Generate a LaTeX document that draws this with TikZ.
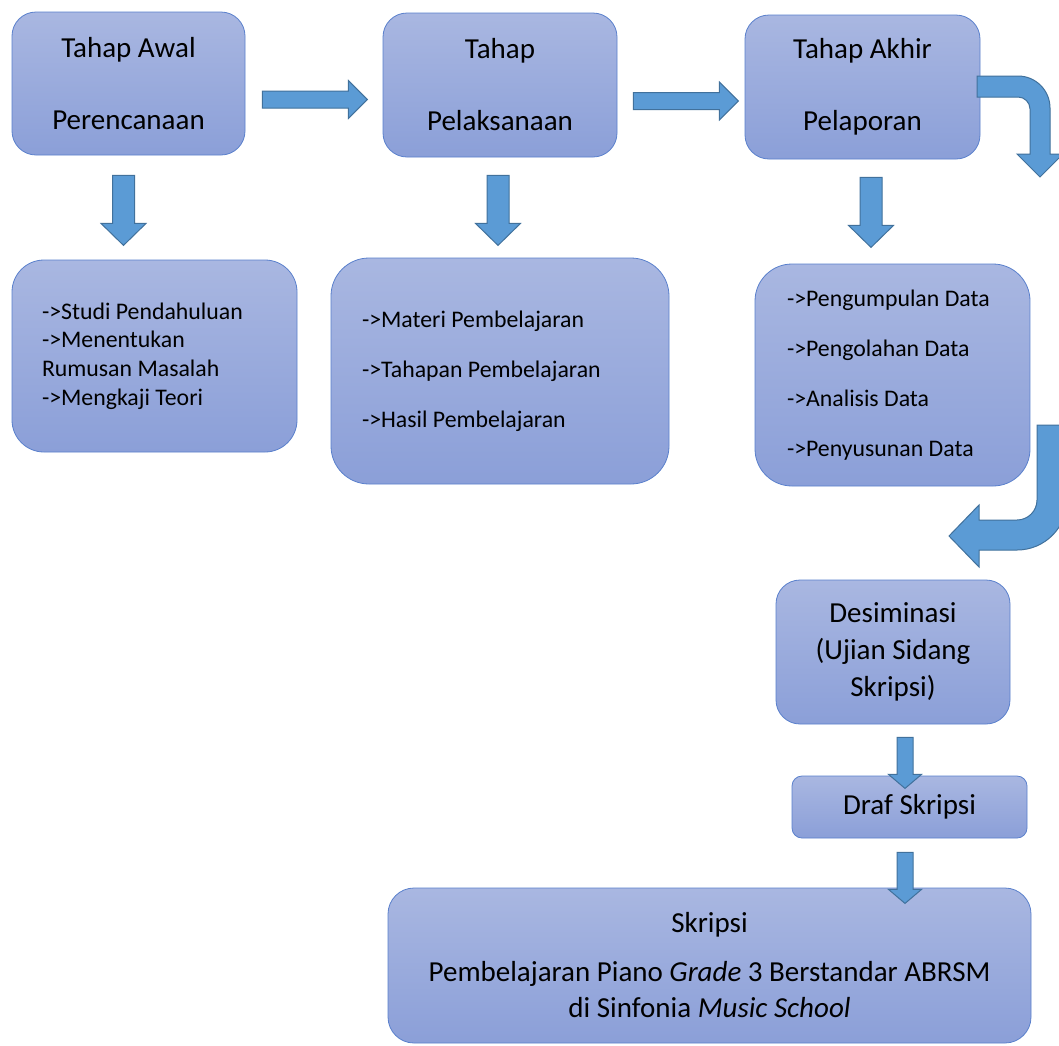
\documentclass[tikz,border=0pt]{standalone}
\usepackage{fontspec}
\setmainfont{Carlito}
\usetikzlibrary{calc}

\definecolor{boxtop}{HTML}{A9B7E1}
\definecolor{boxbottom}{HTML}{8B9FD8}
\definecolor{boxline}{HTML}{5A80CC}
\definecolor{arrowfill}{HTML}{5B9BD5}
\definecolor{arrowline}{HTML}{41719C}

\begin{document}
\begin{tikzpicture}[
    x=1pt, y=-1pt,
    stage/.style={rectangle, rounded corners=24pt, draw=boxline, line width=0.8pt, top color=boxtop, bottom color=boxbottom, align=center, inner sep=0pt, font=\fontsize{29}{36}\selectfont},
    tasklist/.style={stage, align=flush left, font=\fontsize{23.8}{50}\selectfont},
    blockarrow/.style={draw=arrowline, fill=arrowfill, line width=1pt},
    rightarrow/.pic={\draw[blockarrow] (0,-8.5) -- (86,-8.5) -- (86,-19) -- (105,0) -- (86,19) -- (86,8.5) -- (0,8.5) -- cycle;},
    downarrow/.pic={\draw[blockarrow] (-11,0) -- (11,0) -- (11,48) -- (22.5,48) -- (0,70) -- (-22.5,48) -- (-11,48) -- cycle;},
    shortarrow/.pic={\draw[blockarrow] (-8,0) -- (8,0) -- (8,37) -- (16.5,37) -- (0,51) -- (-16.5,37) -- (-8,37) -- cycle;}
]
\clip (0,0) rectangle (1059,1045);
\fill[white] (0,0) rectangle (1059,1045);

% Stages
\node[stage, minimum width=233pt, minimum height=143pt] (awal) at (128.5,83.5) {Tahap Awal\\[36pt]Perencanaan};
\node[stage, minimum width=234pt, minimum height=144pt] (laksana) at (500,85) {Tahap\\[36pt]Pelaksanaan};
\node[stage, minimum width=235pt, minimum height=144pt] (akhir) at (862.5,87) {Tahap Akhir\\[36pt]Pelaporan};

% Tasks
\node[tasklist, rounded corners=32pt, font=\fontsize{23.8}{28.7}\selectfont, text width=225pt, inner xsep=30pt, minimum height=192pt] (studi) at (154.5,356) {->Studi Pendahuluan\\->Menentukan\\Rumusan Masalah\\->Mengkaji Teori};
\node[tasklist, rounded corners=38pt, text width=276pt, inner xsep=31pt, minimum height=226pt] (materi) at (500,371) {->Materi Pembelajaran\\->Tahapan Pembelajaran\\->Hasil Pembelajaran\par\vspace*{16pt}};
\node[tasklist, rounded corners=37pt, text width=211pt, inner xsep=32pt, minimum height=222pt] (kumpul) at (892.5,375) {->Pengumpulan Data\\->Pengolahan Data\\->Analisis Data\\->Penyusunan Data};

% Output
\node[stage, minimum width=234pt, minimum height=144pt, font=\fontsize{29}{37}\selectfont] (desiminasi) at (893,652) {Desiminasi\\(Ujian Sidang\\Skripsi)};
\node[stage, rounded corners=10pt, minimum width=235pt, minimum height=62pt] (draf) at (909.5,807) {Draf Skripsi};
\node[stage, rounded corners=26pt, minimum width=643pt, minimum height=155pt] (skripsi) at (709.5,965.5) {Skripsi\\[13pt]Pembelajaran Piano \textit{Grade} 3 Berstandar ABRSM\\di Sinfonia \textit{Music School}};

% Arrows
\pic at ($(awal.east)+(17,16)$) {rightarrow};
\pic at ($(laksana.east)+(16,16)$) {rightarrow};
\pic at ($(awal.south)+(-5,20)$) {downarrow};
\pic at ($(laksana.south)+(-2,18)$) {downarrow};
\pic at ($(akhir.south)+(8.5,18)$) {downarrow};
\pic at ($(desiminasi.south)+(12,13)$) {shortarrow};
\pic at ($(draf.south)+(-4.5,14)$) {shortarrow};

% Bent arrows
\draw[blockarrow] (977,76) -- (1018,76) .. controls (1035.7,76) and (1050,90.3) .. (1050,108) -- (1050,154) -- (1063,154) -- (1040,177) -- (1017,154) -- (1030,154) -- (1030,109) .. controls (1030,102.4) and (1024.6,97) .. (1018,97) -- (977,97) -- cycle;
\draw[blockarrow] (1037,425) -- (1067,425) -- (1067,500) .. controls (1067,527.6) and (1044.6,550) .. (1017,550) -- (979,550) -- (979,567) -- (949,536) -- (979,505) -- (979,520) -- (1017,520) .. controls (1028,520) and (1037,511) .. (1037,500) -- cycle;

\end{tikzpicture}
\end{document}
